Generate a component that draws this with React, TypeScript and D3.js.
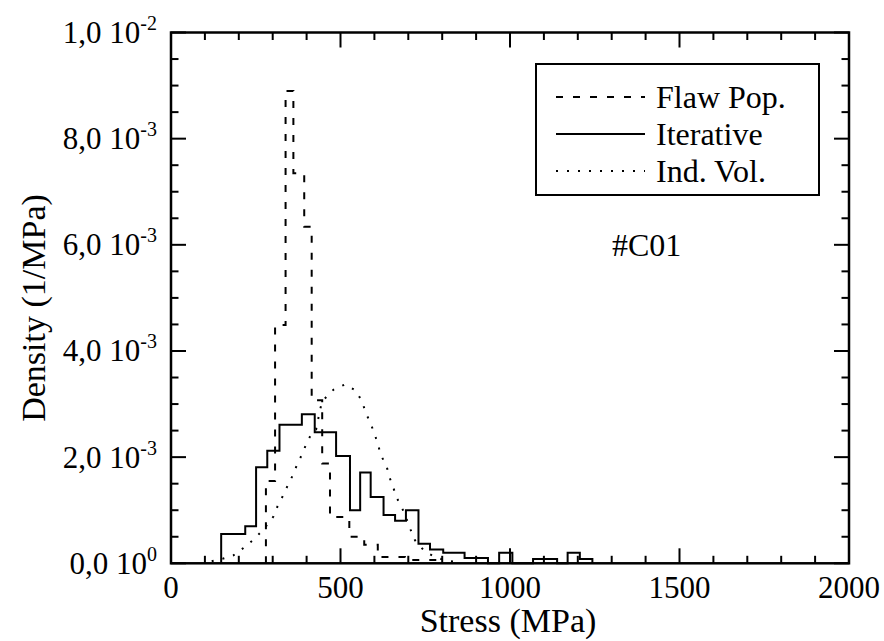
import React from "react";
import * as d3 from "d3";

// ---- data (density in units of 1e-3 1/MPa, stress in MPa) ----
const iterativeEdges = [148, 219, 251, 284, 320, 386, 424, 487, 528, 558, 589, 627, 661, 693, 730, 764, 803, 866, 935, 968, 1007, 1068, 1139, 1170, 1206, 1243];
const iterativeValues = [0.55, 0.70, 1.81, 2.12, 2.61, 2.81, 2.47, 2.02, 1.00, 1.71, 1.25, 0.91, 0.80, 1.00, 0.37, 0.26, 0.20, 0.10, 0, 0.20, 0, 0.08, 0, 0.20, 0.08];

const flawEdges = [280, 307, 338, 361, 393, 415, 446, 469, 526, 570, 610, 690, 800];
const flawValues = [1.55, 4.49, 8.90, 7.35, 6.34, 3.07, 1.88, 0.87, 0.50, 0.35, 0.12, 0.06];

const indVolStress = [120, 154, 184, 216, 248, 278, 302, 314, 330, 346, 361, 373, 389, 400, 418, 428, 440, 446, 459, 479, 513, 546, 564, 575, 589, 601, 611, 619, 636, 644, 656, 667, 683, 695, 707, 720, 749, 781, 813, 850];
const indVolDensity = [0.04, 0.09, 0.15, 0.30, 0.47, 0.68, 0.88, 1.07, 1.27, 1.49, 1.68, 1.88, 2.08, 2.27, 2.48, 2.52, 2.90, 3.05, 3.14, 3.27, 3.37, 3.25, 3.04, 2.83, 2.63, 2.43, 2.23, 2.04, 1.83, 1.63, 1.42, 1.22, 1.02, 0.83, 0.63, 0.43, 0.22, 0.11, 0.05, 0.02];

const xMajorTicks = [0, 500, 1000, 1500, 2000];
const yMajorTicks = [0, 2, 4, 6, 8, 10];
const yTickMantissa = ["0,0", "2,0", "4,0", "6,0", "8,0", "1,0"];
const yTickExponent = ["0", "-3", "-3", "-3", "-3", "-2"];

const legendLabels = ["Flaw Pop.", "Iterative", "Ind. Vol."];
const annotation = "#C01";

const W = 884, H = 641;
const left = 171, right = 849, top = 32.5, bottom = 563.3;
const FONT = "'Liberation Serif', 'Times New Roman', serif";

export default function App() {
  const x = d3.scaleLinear().domain([0, 2000]).range([left, right]);
  const y = d3.scaleLinear().domain([0, 10]).range([bottom, top]);

  const stepPts = (edges: number[], vals: number[]) => {
    const pts: [number, number][] = [[edges[0], 0]];
    vals.forEach((v, i) => {
      pts.push([edges[i], v]);
      pts.push([edges[i + 1], v]);
    });
    pts.push([edges[edges.length - 1], 0]);
    return pts;
  };
  const line = d3.line<[number, number]>().x(d => x(d[0])).y(d => y(d[1]));
  const iterPath = line(stepPts(iterativeEdges, iterativeValues)) || "";
  const flawPath = line(stepPts(flawEdges, flawValues)) || "";
  const indPath = line(indVolStress.map((s, i) => [s, indVolDensity[i]] as [number, number])) || "";

  const xMinor = d3.range(0, 2001, 100);
  const yMinor = d3.range(0, 10.01, 0.5);

  const legX = 536, legY = 64, legW = 283, legH = 131;
  const rows = [97, 134, 171];
  const dashes = ["7,10", undefined, "2,9"];

  return (
    <svg width={W} height={H} style={{ position: "absolute", left: 0, top: 0, background: "#fff" }} fontFamily={FONT}>
      <rect x={0} y={0} width={W} height={H} fill="#fff" />
      {/* data */}
      <g fill="none" stroke="#000" strokeWidth={2}>
        <path d={indPath} strokeDasharray="2,9" />
        <path d={flawPath} strokeDasharray="7,10" />
        <path d={iterPath} strokeLinejoin="miter" />
      </g>
      {/* ticks */}
      <g stroke="#000" strokeWidth={2}>
        {xMinor.map(v => {
          const major = v % 500 === 0;
          const len = major ? 15 : 7.5;
          return (
            <g key={"x" + v}>
              <line x1={x(v)} x2={x(v)} y1={bottom} y2={bottom - len} />
              <line x1={x(v)} x2={x(v)} y1={top} y2={top + len} />
            </g>
          );
        })}
        {yMinor.map(v => {
          const major = Math.abs(v % 2) < 1e-9;
          const len = major ? 15 : 7.5;
          return (
            <g key={"y" + v}>
              <line x1={left} x2={left + len} y1={y(v)} y2={y(v)} />
              <line x1={right} x2={right - len} y1={y(v)} y2={y(v)} />
            </g>
          );
        })}
      </g>
      <rect x={left} y={top} width={right - left} height={bottom - top} fill="none" stroke="#000" strokeWidth={2.5} />
      {/* tick labels */}
      <g fontSize={31} fill="#000">
        {xMajorTicks.map(v => (
          <text key={"xl" + v} x={x(v)} y={598} textAnchor="middle">{v}</text>
        ))}
        {yMajorTicks.map((v, i) => (
          <text key={"yl" + v} x={157} y={y(v) + 10.5} textAnchor="end">
            {yTickMantissa[i] + " 10"}
            <tspan fontSize={20} dy={-13}>{yTickExponent[i]}</tspan>
          </text>
        ))}
      </g>
      {/* axis titles */}
      <text x={508} y={632} textAnchor="middle" fontSize={34}>Stress (MPa)</text>
      <text transform="translate(45,308) rotate(-90)" textAnchor="middle" fontSize={34}>Density (1/MPa)</text>
      <text x={612} y={256} fontSize={32}>{annotation}</text>
      {/* legend */}
      <rect x={legX} y={legY} width={legW} height={legH} fill="#fff" stroke="#000" strokeWidth={2} />
      {legendLabels.map((lab, i) => (
        <g key={lab}>
          <line x1={556} x2={645} y1={rows[i]} y2={rows[i]} stroke="#000" strokeWidth={2} strokeDasharray={dashes[i]} />
          <text x={656} y={rows[i] + 11} fontSize={32}>{lab}</text>
        </g>
      ))}
    </svg>
  );
}
